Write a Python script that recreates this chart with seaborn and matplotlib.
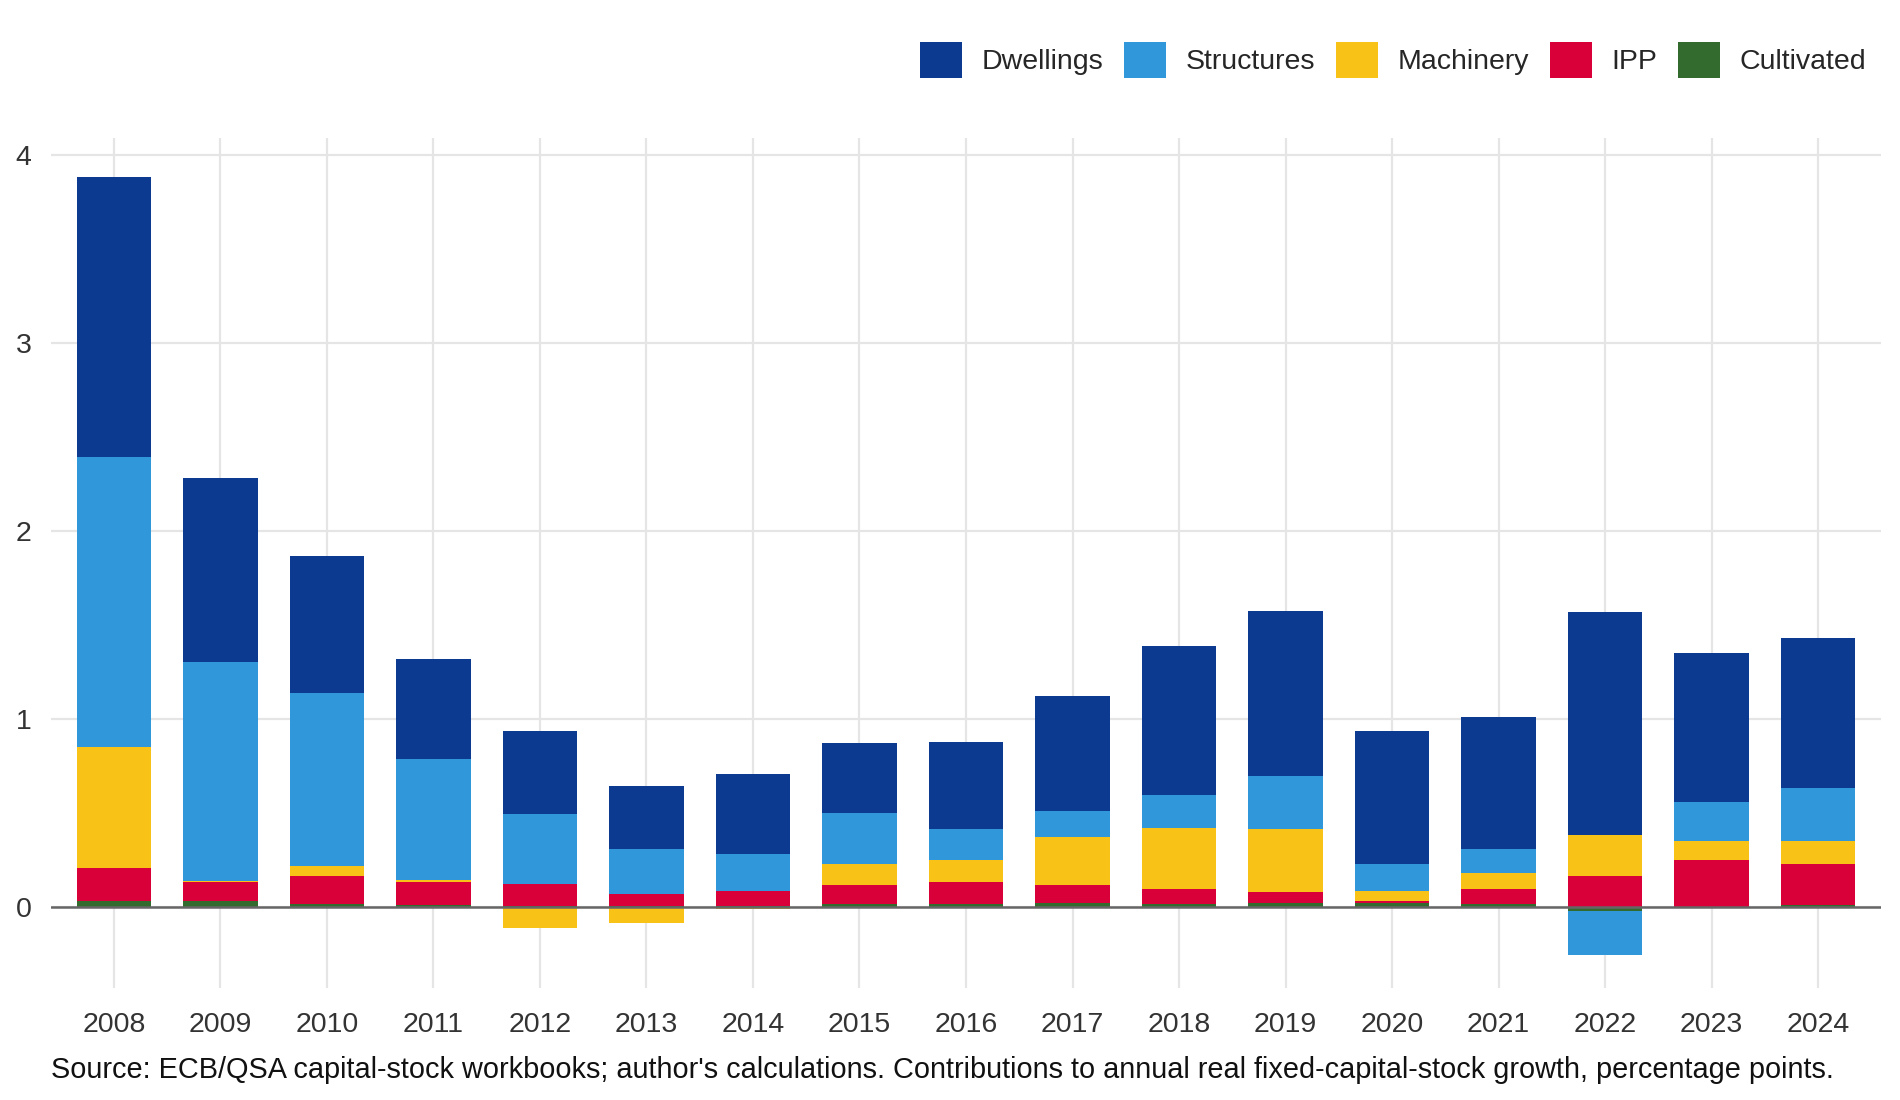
import matplotlib
matplotlib.use("Agg")
import matplotlib.pyplot as plt
from matplotlib.patches import Patch
import numpy as np
import pandas as pd
import seaborn as sns

years = [str(y) for y in range(2008, 2025)]
dwellings = [1.49, 0.98, 0.73, 0.53, 0.445, 0.335, 0.424, 0.373, 0.465, 0.614, 0.794, 0.877, 0.709, 0.70, 1.187, 0.792, 0.80]
structures = [1.54, 1.165, 0.92, 0.646, 0.37, 0.24, 0.197, 0.27, 0.165, 0.138, 0.176, 0.285, 0.144, 0.128, -0.234, 0.207, 0.282]
machinery = [0.646, 0.007, 0.053, 0.011, -0.11, -0.083, -0.008, 0.113, 0.117, 0.255, 0.324, 0.335, 0.053, 0.085, 0.218, 0.101, 0.122]
ipp = [0.175, 0.10, 0.147, 0.122, 0.119, 0.066, 0.08, 0.099, 0.115, 0.096, 0.078, 0.058, 0.011, 0.078, 0.165, 0.25, 0.22]
cultivated = [0.032, 0.032, 0.018, 0.011, 0.005, 0.004, 0.005, 0.018, 0.018, 0.021, 0.018, 0.021, 0.021, 0.018, -0.021, 0.002, 0.009]

series_names = ["Dwellings", "Structures", "Machinery", "IPP", "Cultivated"]
colors = {"Dwellings": "#0C3A91", "Structures": "#3098DA", "Machinery": "#F8C316",
          "IPP": "#D9003A", "Cultivated": "#336A2E"}
source = ("Source: ECB/QSA capital-stock workbooks; author's calculations. "
          "Contributions to annual real fixed-capital-stock growth, percentage points.")

df = pd.DataFrame({"year": years, "Dwellings": dwellings, "Structures": structures,
                   "Machinery": machinery, "IPP": ipp, "Cultivated": cultivated})

sns.set_theme(style="white")
plt.rcParams["font.family"] = ["Liberation Sans", "DejaVu Sans"]

FS = 20.5
fig = plt.figure(figsize=(19, 11), dpi=100)
ax = fig.add_axes([51/1900, 1-988/1100, (1881-51)/1900, (988-138)/1100])

# stacking order from zero outward
stack_order = ["Cultivated", "IPP", "Machinery", "Structures", "Dwellings"]
vals = df[stack_order].to_numpy()
pos = np.clip(vals, 0, None).cumsum(axis=1)
neg = np.clip(vals, None, 0).cumsum(axis=1)

# draw outermost cumulative first, inner ones on top
for k in range(len(stack_order) - 1, -1, -1):
    name = stack_order[k]
    for cum in (pos[:, k], neg[:, k]):
        sns.barplot(x=df["year"], y=cum, color=colors[name], width=0.7,
                    saturation=1, errorbar=None, ax=ax, zorder=3,
                    linewidth=0, edgecolor="none")

ax.set_xlim(-0.59, 16.59)
ax.set_ylim(-0.43, 4.09)
ax.set_yticks([0, 1, 2, 3, 4])
ax.set_xlabel("")
ax.set_ylabel("")
for s in ax.spines.values():
    s.set_visible(False)
ax.grid(True, axis="both", color="#E5E5E5", linewidth=1.6, zorder=0)
ax.set_axisbelow(True)
ax.axhline(0, color="#666666", linewidth=1.8, zorder=5)
ax.tick_params(axis="both", length=0, labelsize=FS, colors="#333333")
ax.tick_params(axis="y", pad=14)
ax.tick_params(axis="x", pad=17.5)

handles = [Patch(facecolor=colors[n], edgecolor="none", label=n) for n in series_names]
fig.legend(handles=handles, loc="center right", bbox_to_anchor=(1866/1900, 1-60/1100),
           ncol=5, frameon=False, fontsize=20.5, handlelength=1.47, handleheight=1.54,
           handletextpad=0.68, columnspacing=0.74, borderpad=0, borderaxespad=0)

fig.text(51/1900, 1-1070/1100, source, ha="left", va="center", fontsize=20.8, color="#111111")

fig.savefig("out.png", dpi=100)
